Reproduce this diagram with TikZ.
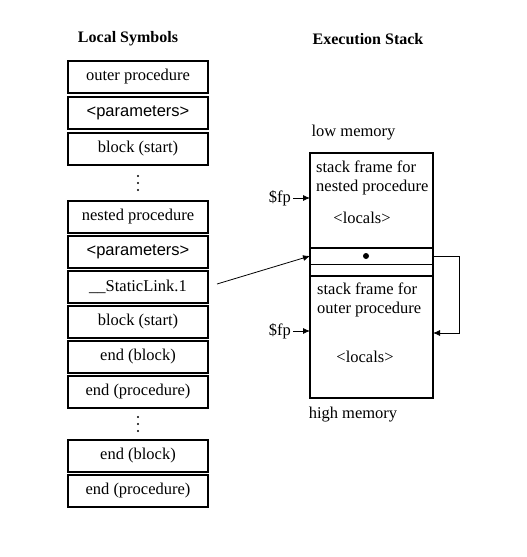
\documentclass[tikz,border=0pt]{standalone}
\usepackage{fontspec}
\setmainfont{Liberation Serif}
\newfontfamily\paramfont{Liberation Sans}
\usetikzlibrary{positioning,calc,arrows.meta}
\tikzstyle{symbox} = [rectangle, draw, line width=1.5pt, minimum width=140pt,
    minimum height=32pt, inner sep=0pt, outer sep=0pt]
\tikzstyle{stackframe} = [rectangle, draw, line width=1.5pt, minimum width=123pt,
    inner sep=0pt, outer sep=0pt]
\tikzstyle{slot} = [rectangle, draw, line width=0.8pt, minimum width=123pt,
    inner sep=0pt, outer sep=0pt]
\tikzstyle{heading} = [font=\fontsize{16}{19}\selectfont\bfseries]
\tikzstyle{note} = [align=left, inner sep=0pt, anchor=north west]
\tikzstyle{arrow} = [draw, -{Latex[length=7pt,width=6pt]}, line width=0.8pt]

\begin{document}
\begin{tikzpicture}[x=1pt, y=-1pt, font=\fontsize{16.5}{19}\selectfont]
      \useasboundingbox (0,0) rectangle (527,557);
      % Place nodes
      \node [heading] (symTitle) at (128,39) {Local Symbols};
      \node [heading] (stackTitle) at (368,39) {Execution Stack};

      \node [symbox] (outerProc) at (138,77) {outer procedure};
      \node [symbox, below=4pt of outerProc] (outerParams) {\paramfont <parameters>};
      \node [symbox, below=4pt of outerParams] (outerBlock) {block (start)};

      \node [symbox, below=36pt of outerBlock] (nestedProc) {nested procedure};
      \coordinate (dotsA) at ($(outerBlock.south)!0.5!(nestedProc.north)$);
      \node [symbox, below=3pt of nestedProc] (nestedParams) {\paramfont <parameters>};
      \node [symbox, below=3pt of nestedParams] (staticLink) {\_\_StaticLink.1};
      \node [symbox, below=3pt of staticLink] (nestedBlock) {block (start)};
      \node [symbox, below=3pt of nestedBlock] (endBlockA) {end (block)};
      \node [symbox, below=3pt of endBlockA] (endProcA) {end (procedure)};

      \node [symbox, below=32pt of endProcA] (endBlockB) {end (block)};
      \coordinate (dotsB) at ($(endProcA.south)!0.5!(endBlockB.north)$);
      \node [symbox, below=3pt of endBlockB] (endProcB) {end (procedure)};

      % vertical dots
      \foreach \d in {-7,0,7} {
        \fill ([yshift=\d pt]dotsA) circle (1.1pt);
        \fill ([yshift=\d pt]dotsB) circle (1.1pt);
      }

      % execution stack
      \node [stackframe, minimum height=95pt] (nestedFrame) at (371.5,200.5) {};
      \node [slot, minimum height=16pt, below=0pt of nestedFrame] (linkSlot) {};
      \node [slot, minimum height=12pt, below=0pt of linkSlot] (padSlot) {};
      \node [stackframe, minimum height=122pt, below=0pt of padSlot] (outerFrame) {};
      \draw [line width=1.5pt] (nestedFrame.north west) rectangle (outerFrame.south east);

      \node [note] (nestedText) at ([shift={(6,8)}]nestedFrame.north west) {stack frame for\\nested procedure};
      \node (nestedLocals) at ([shift={(-9.5,17.5)}]nestedFrame.center) {<locals>};
      \node [note] (outerText) at ([shift={(7,7)}]outerFrame.north west) {stack frame for\\outer procedure};
      \node (outerLocals) at ([shift={(-6.5,20)}]outerFrame.center) {<locals>};
      \node [circle, fill, inner sep=0pt, minimum size=6pt] (linkDot) at ([xshift=-5.5pt]linkSlot.center) {};

      \node (lowMem) at ([shift={(-18,-20)}]nestedFrame.north) {low memory};
      \node (highMem) at ([shift={(-18.5,17)}]outerFrame.south) {high memory};

      \node [anchor=east, inner sep=2pt] (fpNested) at ([shift={(-17,-2.5)}]nestedFrame.west) {\$fp};
      \node [anchor=east, inner sep=2pt] (fpOuter) at ([shift={(-17,-6)}]outerFrame.west) {\$fp};

      \path [arrow] (fpNested.east) -- (fpNested.east -| nestedFrame.west);
      \path [arrow] (fpOuter.east) -- (fpOuter.east -| outerFrame.west);
      \path [arrow] ([shift={(9,-3)}]staticLink.east) -- (linkSlot.west);
      \path [arrow] (linkSlot.east) -- ++(26,0) |- ([yshift=4pt]outerFrame.east);

\end{tikzpicture}
\end{document}
